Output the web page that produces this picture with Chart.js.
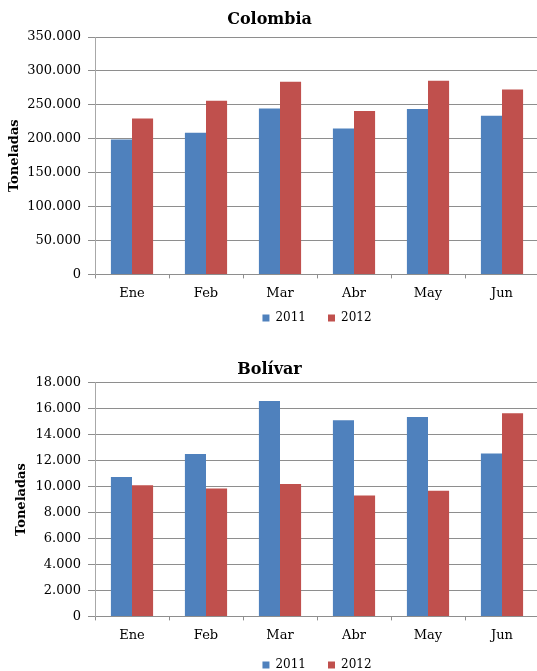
<!DOCTYPE html>
<html>
<head>
<meta charset="utf-8">
<script src="https://cdn.jsdelivr.net/npm/chart.js@4/dist/chart.umd.min.js"></script>
<style>
  html, body { margin: 0; padding: 0; background: #fff; overflow: hidden; }
  .box { position: absolute; left: 0; }
</style>
</head>
<body>
<div class="box" style="top:0"><canvas id="colombiaChart" width="548" height="346"></canvas></div>
<div class="box" style="top:345px"><canvas id="bolivarChart" width="548" height="343"></canvas></div>
<script>
const months = ['Ene', 'Feb', 'Mar', 'Abr', 'May', 'Jun'];
const seriesNames = ['2011', '2012'];

const colombia2011 = [199000, 209000, 244500, 215000, 244000, 234000];
const colombia2012 = [230000, 256000, 284000, 241000, 285500, 272500];

const bolivar2011 = [10740, 12510, 16590, 15100, 15360, 12540];
const bolivar2012 = [10100, 9850, 10200, 9310, 9670, 15640];

const FONT = "'DejaVu Serif', 'Liberation Serif', serif";
const BLUE = '#4F81BD';
const RED = '#C0504D';

// 350000 -> "350.000"
function fmt(v) {
    return String(v).replace(/\B(?=(\d{3})+(?!\d))/g, '.');
}

// legend padding also spaces the items apart, so pull the box up a bit afterwards
const liftLegend = {
    id: 'liftLegend',
    afterLayout(chart, args, opts) {
        const l = chart.legend;
        if (!l) return;
        l.top -= opts.by;
        l.bottom -= opts.by;
    }
};

function createBarChart({ id, title, a, b, max, step, titlePad, yTitlePad, lift }) {
    new Chart(document.getElementById(id), {
        type: 'bar',
        data: {
            labels: months,
            datasets: [
                { label: seriesNames[0], data: a, backgroundColor: BLUE },
                { label: seriesNames[1], data: b, backgroundColor: RED }
            ]
        },
        plugins: [liftLegend],
        options: {
            responsive: false,
            animation: false,
            categoryPercentage: 0.57,
            barPercentage: 1,
            layout: { padding: { left: 0, right: 9, top: 0, bottom: 0 } },
            plugins: {
                title: {
                    display: true, text: title, color: '#000',
                    font: { family: FONT, size: 16, weight: 'bold', lineHeight: 1.2 },
                    padding: titlePad
                },
                legend: {
                    position: 'bottom',
                    fullSize: false,
                    labels: {
                        boxWidth: 7, boxHeight: 7, padding: 22, color: '#000',
                        font: { family: FONT, size: 12 }
                    }
                },
                liftLegend: { by: lift },
                tooltip: { enabled: false }
            },
            scales: {
                x: {
                    grid: { display: true, drawOnChartArea: false, drawTicks: true, tickLength: 4, color: '#8e8e8e', offset: true },
                    border: { color: '#8e8e8e' },
                    ticks: { color: '#000', padding: 7, maxRotation: 0, font: { family: FONT, size: 13 } },
                    afterFit: s => { s.height = 27.6; }
                },
                y: {
                    min: 0, max: max,
                    ticks: {
                        stepSize: step, color: '#000', padding: 7,
                        font: { family: FONT, size: 13 },
                        callback: v => fmt(v)
                    },
                    grid: { color: '#8e8e8e', tickLength: 7 },
                    border: { color: '#a8a8a8' },
                    title: {
                        display: true, text: 'Toneladas', color: '#000',
                        font: { family: FONT, size: 13, weight: 'bold', lineHeight: 1.2 },
                        padding: { top: yTitlePad, bottom: 0 }
                    },
                    afterFit: s => { s.width = 95; }
                }
            }
        }
    });
}

createBarChart({
    id: 'colombiaChart', title: 'Colombia', a: colombia2011, b: colombia2012,
    max: 350000, step: 50000,
    titlePad: { top: 10.4, bottom: 7.4 }, yTitlePad: 7, lift: 12
});

createBarChart({
    id: 'bolivarChart', title: 'Bolívar', a: bolivar2011, b: bolivar2012,
    max: 18000, step: 2000,
    titlePad: { top: 15.4, bottom: 3.1 }, yTitlePad: 14, lift: 7
});
</script>
</body>
</html>
